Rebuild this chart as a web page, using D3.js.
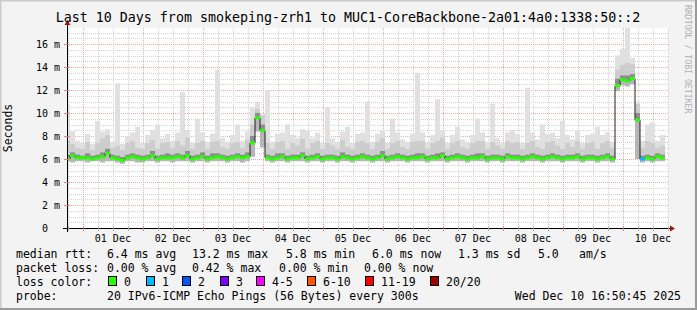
<!DOCTYPE html>
<html>
<head>
<meta charset="utf-8">
<script src="https://cdn.jsdelivr.net/npm/d3@7"></script>
<style>
  body { margin: 0; background: #fff; }
  svg text { font-family: "DejaVu Sans Mono", monospace; fill: #000; }
</style>
</head>
<body>
<svg id="chart"></svg>
<script>
// time window of the graph (10 days, 2h bins)
const startTime = new Date(2025, 10, 30, 16, 50, 45);
const endTime = new Date(2025, 11, 10, 16, 50, 45);
const binHours = 2;

const titleText = "Last 10 Days from smokeping-zrh1 to MUC1-CoreBackbone-2a01:4a0:1338:50::2";
const dayLabels = ["01 Dec", "02 Dec", "03 Dec", "04 Dec", "05 Dec", "06 Dec", "07 Dec", "08 Dec", "09 Dec", "10 Dec"];
const yTickValues = [0, 2, 4, 6, 8, 10, 12, 14, 16];
const yTickLabels = ["0", "2 m", "4 m", "6 m", "8 m", "10 m", "12 m", "14 m", "16 m"];

// median rtt per bin (ms)
const medianMs = [
  6.0, 6.3, 6.1, 6.1, 6.1, 6.0, 6.1, 6.2, 6.5, 6.1,
  6.0, 5.9, 6.1, 6.2, 6.1, 6.0, 6.1, 6.3, 6.0, 6.1,
  6.1, 6.1, 6.2, 6.1, 6.3, 6.0, 6.1, 6.2, 6.0, 6.1,
  6.2, 6.1, 6.0, 6.1, 6.2, 6.1, 6.2, 7.4, 9.6, 8.5,
  6.1, 6.0, 6.1, 6.2, 6.0, 6.1, 6.1, 6.3, 6.0, 6.1,
  6.2, 6.0, 6.1, 6.1, 6.0, 6.2, 6.1, 6.0, 6.1, 6.2,
  6.1, 6.0, 6.1, 6.3, 6.0, 6.1, 6.2, 6.1, 6.0, 6.1,
  6.1, 6.2, 6.0, 6.1, 6.1, 6.3, 6.0, 6.1, 6.2, 6.1,
  6.0, 6.1, 6.1, 6.2, 6.0, 6.1, 6.1, 6.0, 6.2, 6.1,
  6.1, 6.0, 6.1, 6.2, 6.1, 6.0, 6.1, 6.2, 6.1, 6.0,
  6.1, 6.1, 6.2, 6.0, 6.1, 6.1, 6.0, 6.1, 6.2, 6.0,
  12.4, 12.9, 12.8, 13.0, 9.4, 6.0, 6.1, 6.0, 6.2, 6.1
];
// smoke: lowest ping per bin
const minMs = [
  5.8, 5.7, 5.8, 5.8, 5.7, 5.8, 5.8, 5.7, 5.8, 5.8,
  5.7, 5.6, 5.8, 5.8, 5.7, 5.7, 5.8, 5.8, 5.7, 5.8,
  5.8, 5.7, 5.8, 5.8, 5.8, 5.7, 5.8, 5.8, 5.7, 5.8,
  5.8, 5.8, 5.7, 5.8, 5.8, 5.7, 5.8, 6.2, 8.4, 7.0,
  5.8, 5.7, 5.8, 5.8, 5.7, 5.8, 5.8, 5.8, 5.7, 5.8,
  5.8, 5.7, 5.8, 5.8, 5.7, 5.8, 5.8, 5.7, 5.8, 5.8,
  5.8, 5.7, 5.8, 5.8, 5.7, 5.8, 5.8, 5.8, 5.7, 5.8,
  5.8, 5.8, 5.7, 5.8, 5.8, 5.8, 5.7, 5.8, 5.8, 5.8,
  5.7, 5.8, 5.8, 5.8, 5.7, 5.8, 5.8, 5.7, 5.8, 5.8,
  5.8, 5.7, 5.8, 5.8, 5.8, 5.7, 5.8, 5.8, 5.8, 5.7,
  5.8, 5.8, 5.8, 5.7, 5.8, 5.8, 5.7, 5.8, 5.8, 5.7,
  11.9, 12.4, 12.3, 12.5, 6.0, 5.7, 5.8, 5.7, 5.8, 5.8
];
// smoke: upper dense band
const q3Ms = [
  6.4, 6.6, 6.4, 6.3, 6.5, 6.3, 6.4, 6.6, 6.9, 6.4,
  6.3, 6.2, 6.4, 6.5, 6.4, 6.3, 6.4, 6.7, 6.3, 6.4,
  6.5, 6.4, 6.5, 6.4, 6.7, 6.3, 6.4, 6.6, 6.3, 6.5,
  6.5, 6.4, 6.3, 6.4, 6.5, 6.4, 6.6, 8.0, 10.0, 9.0,
  6.4, 6.3, 6.5, 6.5, 6.3, 6.4, 6.4, 6.6, 6.3, 6.4,
  6.5, 6.3, 6.4, 6.4, 6.3, 6.6, 6.4, 6.3, 6.4, 6.5,
  6.4, 6.3, 6.4, 6.7, 6.3, 6.4, 6.5, 6.4, 6.3, 6.4,
  6.5, 6.5, 6.3, 6.4, 6.5, 6.6, 6.3, 6.4, 6.5, 6.4,
  6.3, 6.4, 6.5, 6.5, 6.3, 6.4, 6.4, 6.3, 6.5, 6.4,
  6.4, 6.3, 6.4, 6.5, 6.4, 6.3, 6.4, 6.5, 6.4, 6.3,
  6.4, 6.4, 6.5, 6.3, 6.4, 6.4, 6.3, 6.4, 6.5, 6.3,
  13.0, 13.3, 13.3, 13.4, 10.0, 6.3, 6.4, 6.3, 6.5, 6.4
];
// smoke: upper light band
const hiMs = [
  7.6, 7.3, 7.0, 6.9, 7.5, 6.8, 7.4, 7.8, 8.1, 7.0,
  7.2, 6.8, 7.4, 7.6, 7.0, 6.9, 7.4, 7.7, 6.9, 7.4,
  7.5, 7.0, 7.6, 7.2, 7.9, 6.9, 7.4, 7.6, 6.9, 7.5,
  7.6, 7.1, 6.9, 7.4, 7.5, 7.0, 7.7, 9.0, 10.4, 9.8,
  7.4, 6.9, 7.5, 7.6, 6.9, 7.4, 7.2, 7.8, 6.9, 7.4,
  7.6, 6.9, 7.4, 7.2, 6.9, 7.7, 7.1, 6.9, 7.5, 7.6,
  7.4, 6.9, 7.5, 7.8, 6.9, 7.4, 7.6, 7.1, 6.9, 7.5,
  7.6, 7.6, 6.9, 7.4, 7.6, 7.9, 6.9, 7.4, 7.6, 7.1,
  6.9, 7.4, 7.6, 7.6, 6.9, 7.5, 7.2, 6.9, 7.6, 7.4,
  7.5, 6.9, 7.4, 7.6, 7.1, 6.9, 7.5, 7.6, 7.2, 6.9,
  7.4, 7.1, 7.6, 6.9, 7.4, 7.5, 6.9, 7.4, 7.6, 7.0,
  13.8, 14.2, 14.4, 14.3, 10.8, 7.0, 7.6, 7.4, 7.0, 7.2
];
// smoke: highest ping per bin
const maxMs = [
  10.7, 8.4, 7.6, 7.4, 8.2, 7.3, 9.3, 8.4, 8.6, 7.5,
  12.6, 7.3, 8.0, 8.3, 8.8, 7.4, 8.1, 8.5, 9.0, 7.8,
  8.2, 7.6, 8.3, 11.8, 8.5, 7.4, 9.5, 8.3, 7.5, 8.2,
  13.8, 7.8, 7.5, 8.1, 9.0, 7.6, 8.4, 10.5, 11.0, 10.0,
  12.0, 7.5, 8.2, 8.3, 9.0, 8.1, 7.8, 8.6, 8.5, 7.8,
  8.3, 7.4, 10.5, 7.8, 7.5, 8.4, 8.8, 7.4, 8.2, 8.3,
  11.0, 7.5, 8.2, 8.5, 7.4, 9.5, 8.3, 7.7, 7.5, 8.2,
  13.5, 8.3, 7.5, 8.1, 11.2, 8.5, 7.4, 8.1, 8.8, 7.7,
  7.5, 8.1, 9.5, 8.3, 7.5, 10.8, 7.8, 7.4, 8.3, 8.5,
  8.2, 7.4, 12.2, 8.3, 7.7, 9.0, 8.2, 8.3, 7.8, 9.3,
  8.1, 7.7, 8.5, 7.4, 8.1, 8.2, 8.8, 8.1, 8.3, 7.5,
  15.0, 15.6, 18.0, 14.8, 11.0, 7.6, 9.0, 9.2, 7.6, 8.1
];
// bins with lost pings
const lossBins = [115];
const lossCounts = [1];

const lossLabels = ["0", "1", "2", "3", "4-5", "6-10", "11-19", "20/20"];
const lossLimits = [0, 1, 2, 3, 5, 10, 19, 20];
const lossColors = ["#26ff00", "#00b8ff", "#0059ff", "#7e00ff", "#ff00ff", "#ff5500", "#ff0000", "#a10000"];

const rttStats = ["6.4 ms avg", "13.2 ms max", "5.8 ms min", "6.0 ms now", "1.3 ms sd", "5.0", "am/s"];
const lossStats = ["0.00 % avg", "0.42 % max", "0.00 % min", "0.00 % now"];
const probeText = "20 IPv6-ICMP Echo Pings (56 Bytes) every 300s";
const stampText = "Wed Dec 10 16:50:45 2025";

class smokeChart {
  constructor(_config) {
    this.config = {
      parentElement: _config.parentElement,
      containerWidth: _config.containerWidth || 697,
      containerHeight: _config.containerHeight || 310,
      margin: {top: 28, right: 29, bottom: 82, left: 67}
    };
    this.initVis();
  }

  initVis() {
    let vis = this;

    vis.width = vis.config.containerWidth - vis.config.margin.left - vis.config.margin.right;
    vis.height = vis.config.containerHeight - vis.config.margin.top - vis.config.margin.bottom;

    vis.svg = d3.select(vis.config.parentElement)
      .attr("width", vis.config.containerWidth)
      .attr("height", vis.config.containerHeight);

    // time scale is shifted 2px left of the canvas, like rrdtool does
    vis.xScale = d3.scaleTime()
      .domain([startTime, endTime])
      .range([vis.config.margin.left - 2, vis.config.margin.left - 2 + 600]);

    vis.yScale = d3.scaleLinear()
      .domain([0, 17.4])
      .range([vis.config.margin.top + vis.height, vis.config.margin.top]);

    // one record per bin
    vis.data = medianMs.map((m, i) => ({
      t: new Date(startTime.getTime() + i * binHours * 3600e3),
      median: m, min: minMs[i], q3: q3Ms[i], hi: hiMs[i], max: maxMs[i],
      loss: 0
    }));
    lossBins.forEach((b, i) => vis.data[b].loss = lossCounts[i]);
    // closing point so the last step reaches the end time
    vis.stepData = vis.data.concat([Object.assign({}, vis.data[vis.data.length - 1], {t: endTime})]);

    vis.renderVis();
  }

  renderVis() {
    let vis = this;
    const W = vis.config.containerWidth, H = vis.config.containerHeight;
    const left = vis.config.margin.left, top = vis.config.margin.top;
    const bottom = top + vis.height, right = left + vis.width;

    // background + shaded border
    vis.svg.append("rect").attr("width", W).attr("height", H).attr("fill", "#f3f3f3");
    vis.svg.append("path").attr("d", `M0,${H} V0 H${W}`).attr("fill", "none")
      .attr("stroke", "#cbcbcb").attr("stroke-width", 3);
    vis.svg.append("path").attr("d", `M0,${H - 1} H${W - 1} V0`).attr("fill", "none")
      .attr("stroke", "#9a9a9a").attr("stroke-width", 2);

    // canvas
    vis.svg.append("rect")
      .attr("x", left).attr("y", top).attr("width", vis.width).attr("height", vis.height)
      .attr("fill", "#ffffff");

    vis.svg.append("clipPath").attr("id", "plotclip")
      .append("rect").attr("x", left).attr("y", top).attr("width", vis.width).attr("height", vis.height);

    // grid
    const grid = vis.svg.append("g").attr("class", "grid");
    const xMin = vis.xScale.invert(left), xMax = vis.xScale.invert(right);
    const minorX = d3.timeHour.every(6).range(xMin, xMax);
    grid.selectAll(".vminor").data(minorX.filter(d => d.getHours() !== 0)).join("line")
      .attr("x1", d => Math.round(vis.xScale(d)) + 0.5).attr("x2", d => Math.round(vis.xScale(d)) + 0.5)
      .attr("y1", top).attr("y2", bottom)
      .attr("stroke", "#d4d4d4").attr("stroke-dasharray", "1,1");
    const minorY = d3.range(0.5, 17.4, 0.5).filter(v => v % 2 !== 0);
    grid.selectAll(".hminor").data(minorY).join("line")
      .attr("x1", left).attr("x2", right)
      .attr("y1", d => Math.round(vis.yScale(d)) + 0.5).attr("y2", d => Math.round(vis.yScale(d)) + 0.5)
      .attr("stroke", "#d4d4d4").attr("stroke-dasharray", "1,1");
    const majorX = d3.timeDay.range(xMin, xMax);
    grid.selectAll(".vmajor").data(majorX).join("line")
      .attr("x1", d => Math.round(vis.xScale(d)) + 0.5).attr("x2", d => Math.round(vis.xScale(d)) + 0.5)
      .attr("y1", top).attr("y2", bottom)
      .attr("stroke", "#f0a8a8").attr("stroke-dasharray", "1,1");
    grid.selectAll(".hmajor").data(yTickValues.slice(1)).join("line")
      .attr("x1", left).attr("x2", right)
      .attr("y1", d => Math.round(vis.yScale(d)) + 0.5).attr("y2", d => Math.round(vis.yScale(d)) + 0.5)
      .attr("stroke", "#f0a8a8").attr("stroke-dasharray", "1,1");

    // smoke bands
    const plot = vis.svg.append("g").attr("clip-path", "url(#plotclip)");
    const band = (lo, hi) => d3.area()
      .curve(d3.curveStepAfter)
      .x(d => vis.xScale(d.t))
      .y0(d => vis.yScale(d[lo]))
      .y1(d => vis.yScale(d[hi]));
    const bands = [["hi", "max", "#e0e0e0"], ["q3", "hi", "#cdcdcd"], ["median", "q3", "#8e8e8e"], ["min", "median", "#b6b6b6"]];
    bands.forEach(b => {
      plot.append("path").datum(vis.stepData)
        .attr("d", band(b[0], b[1]))
        .attr("fill", b[2]);
    });

    // median line
    plot.append("path").datum(vis.stepData)
      .attr("d", d3.line().curve(d3.curveStepAfter).x(d => vis.xScale(d.t)).y(d => vis.yScale(d.median)))
      .attr("fill", "none").attr("stroke", "#202020").attr("stroke-width", 1);

    const lossColor = n => lossColors[lossLimits.findIndex(l => n <= l)];
    plot.selectAll(".med").data(vis.data).join("line")
      .attr("x1", d => vis.xScale(d.t))
      .attr("x2", (d, i) => vis.xScale(vis.stepData[i + 1].t))
      .attr("y1", d => vis.yScale(d.median))
      .attr("y2", d => vis.yScale(d.median))
      .attr("stroke", d => lossColor(d.loss)).attr("stroke-width", 3);

    // axes
    const axis = vis.svg.append("g");
    axis.append("line").attr("x1", left - 4).attr("x2", right + 2)
      .attr("y1", bottom + 0.5).attr("y2", bottom + 0.5).attr("stroke", "#000");
    axis.append("line").attr("x1", left + 0.5).attr("x2", left + 0.5)
      .attr("y1", bottom + 4).attr("y2", top - 4).attr("stroke", "#000");
    axis.append("path").attr("d", `M${right + 2},${bottom - 2.5} L${right + 7},${bottom + 0.5} L${right + 2},${bottom + 3.5} Z`)
      .attr("fill", "#a01010");
    axis.append("path").attr("d", `M${left - 2.5},${top - 3} L${left + 0.5},${top - 8} L${left + 3.5},${top - 3} Z`)
      .attr("fill", "#a01010");

    // small ticks on the axes
    axis.selectAll(".xtick").data(minorX).join("line")
      .attr("x1", d => Math.round(vis.xScale(d)) + 0.5).attr("x2", d => Math.round(vis.xScale(d)) + 0.5)
      .attr("y1", bottom - 2).attr("y2", bottom + 3)
      .attr("stroke", d => d.getHours() === 0 ? "#e08080" : "#b0b0b0");
    axis.selectAll(".ytick").data(yTickValues.slice(1)).join("line")
      .attr("x1", left - 3).attr("x2", left + 3)
      .attr("y1", d => Math.round(vis.yScale(d)) + 0.5).attr("y2", d => Math.round(vis.yScale(d)) + 0.5)
      .attr("stroke", "#e08080");

    // tick labels
    axis.selectAll(".xlab").data(dayLabels).join("text")
      .attr("x", (d, i) => vis.xScale(new Date(2025, 11, i + 1, 12)))
      .attr("y", bottom + 14)
      .attr("text-anchor", "middle")
      .attr("font-size", "10px")
      .text(d => d);
    axis.selectAll(".ylab").data(yTickValues).join("text")
      .attr("x", left - 7)
      .attr("y", d => vis.yScale(d) + 3.5)
      .attr("text-anchor", "end")
      .attr("font-size", "10px")
      .text((d, i) => yTickLabels[i].length === 1 ? yTickLabels[i] + "\u00a0\u00a0" : yTickLabels[i]);

    vis.svg.append("text")
      .attr("transform", `translate(12,${(top + bottom) / 2}) rotate(-90)`)
      .attr("text-anchor", "middle")
      .attr("font-size", "11.5px")
      .text("Seconds");

    vis.svg.append("text")
      .attr("transform", "translate(685,5) rotate(90)")
      .attr("font-size", "8.2px")
      .style("fill", "#b0b0b0")
      .text("RRDTOOL / TOBI OETIKER");

    // title
    vis.svg.append("text")
      .attr("x", 348).attr("y", 22)
      .attr("text-anchor", "middle")
      .attr("font-size", "13.3px")
      .text(titleText);

    // legend
    const leg = vis.svg.append("g").attr("font-size", "11.5px");
    const rowY = [258, 272, 286, 300];
    leg.append("text").attr("x", 16).attr("y", rowY[0]).text("median rtt:");
    const rttX = [107, 192, 286, 372, 458, 538, 579];
    rttStats.forEach((s, i) => leg.append("text").attr("x", rttX[i]).attr("y", rowY[0]).text(s));

    leg.append("text").attr("x", 16).attr("y", rowY[1]).text("packet loss:");
    const lossX = [107, 192, 279, 364];
    lossStats.forEach((s, i) => leg.append("text").attr("x", lossX[i]).attr("y", rowY[1]).text(s));

    leg.append("text").attr("x", 16).attr("y", rowY[2]).text("loss color:");
    const swX = [108, 146, 182, 220, 256, 307, 365, 430];
    lossLabels.forEach((s, i) => {
      leg.append("rect").attr("x", swX[i] + 0.5).attr("y", rowY[2] - 9.5)
        .attr("width", 8).attr("height", 9)
        .attr("fill", lossColors[i]).attr("stroke", "#000");
      leg.append("text").attr("x", swX[i] + 16).attr("y", rowY[2]).text(s);
    });

    leg.append("text").attr("x", 16).attr("y", rowY[3]).text("probe:");
    leg.append("text").attr("x", 107).attr("y", rowY[3]).text(probeText);
    leg.append("text").attr("x", 681).attr("y", rowY[3]).attr("text-anchor", "end").text(stampText);
  }
}

new smokeChart({parentElement: "#chart"});
</script>
</body>
</html>
